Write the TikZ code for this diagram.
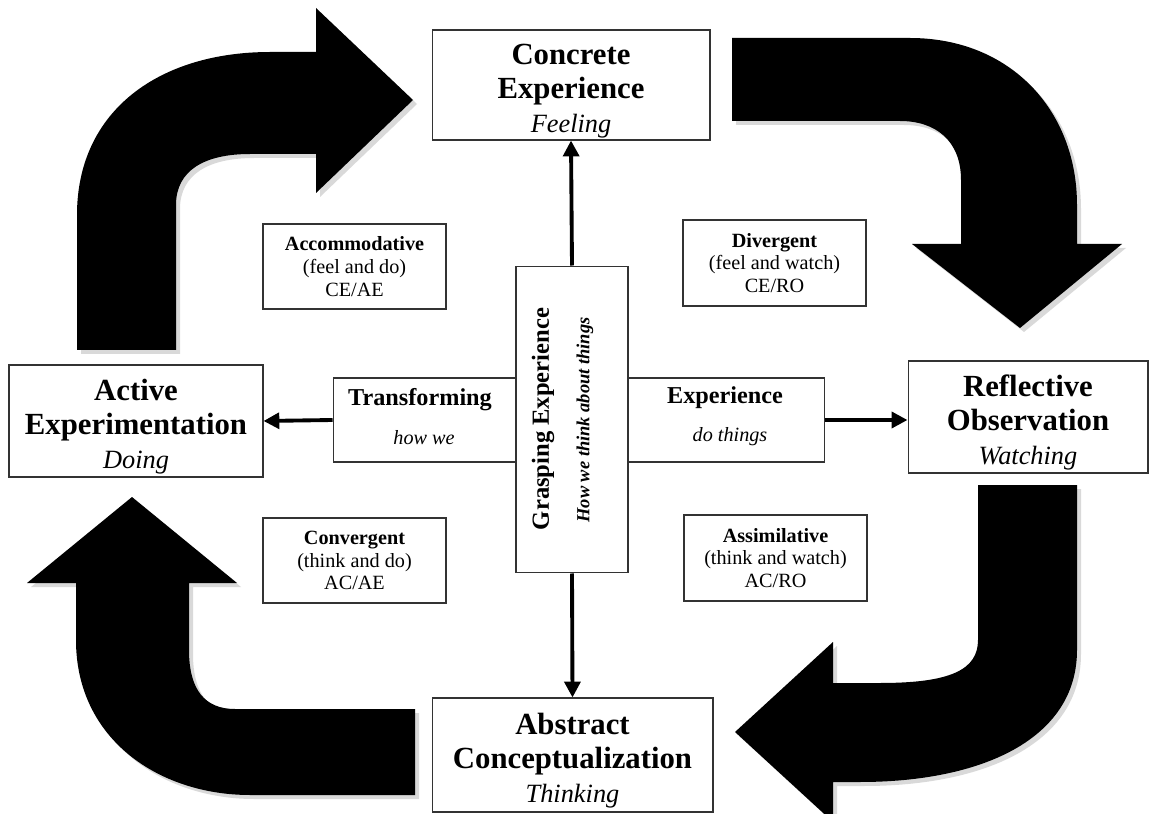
\documentclass[tikz,border=0pt]{standalone}
\usepackage{fontspec}
\setmainfont{Liberation Serif}
\usetikzlibrary{arrows.meta}
\newcommand\stagefont{\fontsize{17.5}{19.5}\selectfont\bfseries}
\newcommand\stagesub[1]{{\fontsize{15}{19.5}\selectfont\mdseries\itshape #1}}
\newcommand\topstrut{\rule{0pt}{18.5pt}}
\newcommand\modefont{\fontsize{11.5}{13}\selectfont}
\begin{document}
\begin{tikzpicture}[x=0.02cm, y=-0.02cm,
  stagebox/.style={draw=black!80, line width=0.6pt, align=center, inner sep=0pt, font=\stagefont},
  modebox/.style={draw=black!80, line width=0.6pt, align=center, inner sep=0pt, font=\modefont},
  bigarrow/.style={fill=black},
  arrowshade/.style={fill=gray!30},
  link/.style={line width=2.2pt, -{Triangle[length=9pt,width=9pt]}}]
\useasboundingbox (0,0) rectangle (1157,814);
% curved block arrows round the cycle
\foreach \st/\dx in {arrowshade/4, bigarrow/0}{
\begin{scope}[shift={(\dx,\dx)}]
\fill[\st] (77,350) -- (77,215) .. controls (77,110) and (160,52) .. (270,52) -- (316,52) -- (316,8)
  -- (413,100) -- (316,193) -- (316,154) -- (250,154) .. controls (205,154) and (176,170) .. (176,205)
  -- (176,350) -- cycle;
\fill[\st] (732,38) -- (910,38) .. controls (1010,38) and (1077,110) .. (1077,205) -- (1077,244)
  -- (1122,244) -- (1020,328) -- (912,244) -- (961,244) -- (961,180) .. controls (961,140) and (935,121) .. (900,121)
  -- (732,121) -- cycle;
\fill[\st] (978,485) -- (1077,485) -- (1077,650) .. controls (1077,740) and (980,782) .. (860,782)
  -- (833,782) -- (833,822) -- (735,732) -- (833,642) -- (833,683) -- (880,683)
  .. controls (950,683) and (978,670) .. (978,640) -- cycle;
\fill[\st] (415,709) -- (235,709) .. controls (205,709) and (189,690) .. (189,650) -- (189,583)
  -- (237,583) -- (132,497) -- (27,583) -- (76,583) -- (76,640) .. controls (76,740) and (160,795) .. (250,795)
  -- (415,795) -- cycle;
\end{scope}
}
% the four stages
\node[stagebox, minimum width=5.56cm, minimum height=2.2cm] (ce) at (571,85)
  {\topstrut Concrete\\Experience\\\stagesub{Feeling}};
\node[stagebox, minimum width=5.08cm, minimum height=2.24cm] (ae) at (136,421)
  {\topstrut Active\\Experimentation\\\stagesub{Doing}};
\node[stagebox, minimum width=4.8cm, minimum height=2.24cm] (ro) at (1028,417)
  {\topstrut Reflective\\Observation\\\stagesub{Watching}};
\node[stagebox, minimum width=5.62cm, minimum height=2.28cm] (ac) at (572.5,755)
  {\topstrut Abstract\\Conceptualization\\\stagesub{Thinking}};
% the four learning styles
\node[modebox, minimum width=3.66cm, minimum height=1.7cm] (acc) at (354.5,266.5)
  {\textbf{Accommodative}\\(feel and do)\\CE/AE};
\node[modebox, minimum width=3.66cm, minimum height=1.72cm] (div) at (774.5,263)
  {\textbf{Divergent}\\(feel and watch)\\CE/RO};
\node[modebox, minimum width=3.66cm, minimum height=1.7cm] (con) at (354.5,560.5)
  {\textbf{Convergent}\\(think and do)\\AC/AE};
\node[modebox, minimum width=3.66cm, minimum height=1.72cm] (ass) at (775.5,558)
  {\textbf{Assimilative}\\(think and watch)\\AC/RO};
% central cross
\node[draw=black!80, line width=0.6pt, minimum width=9.84cm, minimum height=1.68cm] (band) at (579,420) {};
\node[draw=black!80, line width=0.6pt, fill=white, minimum width=2.24cm, minimum height=6.14cm] (grasp) at (572,419.5) {};
\node[font=\fontsize{13.8}{15}\selectfont\bfseries] (transf) at (420,400) {Transforming};
\node[font=\fontsize{11.5}{13}\selectfont\itshape] (howwe) at (424,438) {how we};
\node[font=\fontsize{13.8}{15}\selectfont\bfseries] (experi) at (725,398) {Experience};
\node[font=\fontsize{11.5}{13}\selectfont\itshape] (dothings) at (730,437) {do things};
\node[font=\fontsize{14}{16}\selectfont\bfseries, rotate=90] (grasptitle) at (543,419) {Grasping Experience};
\node[font=\fontsize{10.5}{12}\selectfont\bfseries\itshape, rotate=90] (graspsub) at (585,420) {How we think about things};
% connectors
\draw[link] (grasp.north) -- (ce.south);
\draw[link] (grasp.south) -- (ac.north);
\draw[link] (band.west) -- (ae.east);
\draw[link] (band.east) -- (band.east -| ro.west);
\end{tikzpicture}
\end{document}
